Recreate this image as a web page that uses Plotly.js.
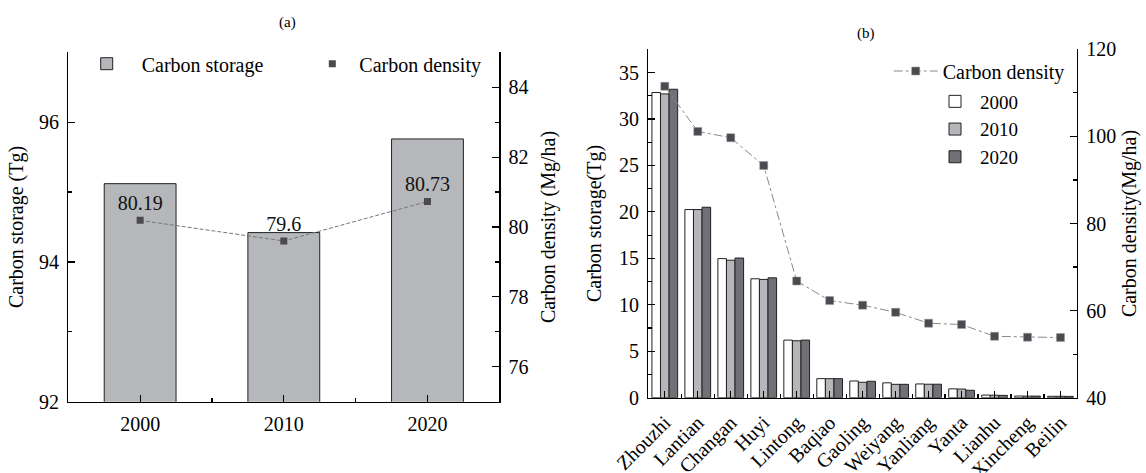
<!DOCTYPE html>
<html><head><meta charset="utf-8">
<script src="https://cdn.plot.ly/plotly-3.0.1.min.js"></script>
<style>html,body{margin:0;padding:0;background:#fff}#chart{width:1146px;height:473px}</style>
</head><body><div id="chart"></div>
<script>
// ---- Panel (a) data ----
const yearsA = ['2000', '2010', '2020'];
const storageA = [95.12, 94.42, 95.76];      // Tg
const densityA = [80.19, 79.6, 80.73];       // Mg/ha

// ---- Panel (b) data ----
const districts = ['Zhouzhi', 'Lantian', 'Changan', 'Huyi', 'Lintong', 'Baqiao', 'Gaoling',
  'Weiyang', 'Yanliang', 'Yanta', 'Lianhu', 'Xincheng', 'Beilin'];
const storage2000 = [32.85, 20.25, 14.97, 12.8, 6.2, 2.05, 1.8, 1.6, 1.48, 0.95, 0.28, 0.18, 0.15];
const storage2010 = [32.7, 20.25, 14.8, 12.73, 6.13, 2.05, 1.66, 1.44, 1.45, 0.93, 0.27, 0.17, 0.15];
const storage2020 = [33.2, 20.5, 15.03, 12.9, 6.2, 2.05, 1.77, 1.44, 1.45, 0.8, 0.25, 0.17, 0.14];
const densityB = [111.5, 101.15, 99.7, 93.3, 66.8, 62.3, 61.25, 59.6, 57.1, 56.8, 54.1, 53.9, 53.8];

const W = 1146, H = 473;
const fx = p => p / W;
const fy = p => 1 - p / H;
const FONT = '"Liberation Serif", "Times New Roman", Times, serif';
const tickFont = {family: FONT, size: 20, color: '#000'};
const titleFont = {family: FONT, size: 20, color: '#000'};

const idxA = yearsA.map((_, i) => i);
const idxB = districts.map((_, i) => i);
const midsA = yearsA.slice(1).map((_, i) => i + 0.5);
const midsB = districts.slice(1).map((_, i) => i + 0.5);

const barLine = {color: '#222', width: 1};
const traces = [
  {type: 'bar', x: idxA, y: storageA, xaxis: 'x', yaxis: 'y', width: 0.5,
   marker: {color: '#b5b7ba', line: barLine}, name: 'Carbon storage', legend: 'legend'},
  {type: 'scatter', mode: 'lines', x: idxA, y: densityA, xaxis: 'x', yaxis: 'y2',
   line: {color: '#777', width: 1, dash: '4px,2px'}, showlegend: false, hoverinfo: 'skip'},
  {type: 'scatter', mode: 'markers+text', x: idxA, y: densityA, xaxis: 'x', yaxis: 'y2',
   text: densityA.map(String), textposition: 'top center',
   textfont: {family: FONT, size: 20, color: '#111'},
   marker: {symbol: 'square', size: 7, color: '#4a4a50'}, name: 'Carbon density', legend: 'legend2'},

  {type: 'bar', x: idxB, y: storage2000, xaxis: 'x2', yaxis: 'y3', name: '2000',
   marker: {color: '#ffffff', line: barLine}, legend: 'legend4'},
  {type: 'bar', x: idxB, y: storage2010, xaxis: 'x2', yaxis: 'y3', name: '2010',
   marker: {color: '#b4b6b9', line: barLine}, legend: 'legend4'},
  {type: 'bar', x: idxB, y: storage2020, xaxis: 'x2', yaxis: 'y3', name: '2020',
   marker: {color: '#707176', line: barLine}, legend: 'legend4'},
  {type: 'scatter', mode: 'lines+markers', x: idxB, y: densityB, xaxis: 'x2', yaxis: 'y4',
   line: {color: '#8a8a8a', width: 1, dash: 'dashdot'},
   marker: {symbol: 'square', size: 8, color: '#4a4a50', line: {color: '#999', width: 0.5}},
   name: 'Carbon density', legend: 'legend3'}
];

const axCommon = {showline: true, linecolor: '#000', linewidth: 1.3, ticks: 'inside', ticklen: 7,
  tickcolor: '#000', tickwidth: 1.2, showgrid: false, zeroline: false, automargin: false,
  tickfont: tickFont, ticklabelstandoff: 4, fixedrange: true};

const legCommon = {font: {family: FONT, size: 20, color: '#000'}, bgcolor: 'rgba(0,0,0,0)',
  borderwidth: 0, xanchor: 'left', yanchor: 'middle'};

const layout = {
  width: W, height: H, margin: {l: 0, r: 0, t: 0, b: 0},
  paper_bgcolor: '#fff', plot_bgcolor: '#fff',
  barmode: 'group', bargap: 0.22, bargroupgap: 0,
  font: {family: FONT, color: '#000'},
  xaxis: Object.assign({}, axCommon, {domain: [fx(68.3), fx(499.3)], anchor: 'y', range: [-0.5, 2.5],
    tickmode: 'array', tickvals: idxA, ticktext: yearsA,
    minor: {tickmode: 'array', tickvals: midsA, ticks: 'inside', ticklen: 4, tickcolor: '#000'}}),
  yaxis: Object.assign({}, axCommon, {domain: [fy(401.7), fy(52.3)], anchor: 'x', range: [92, 97],
    tick0: 92, dtick: 2, minor: {dtick: 1, ticks: 'inside', ticklen: 4, tickcolor: '#000'},
    title: {text: 'Carbon storage (Tg)', font: titleFont, standoff: 10}}),
  yaxis2: Object.assign({}, axCommon, {overlaying: 'y', side: 'right', anchor: 'x', range: [75, 85],
    tick0: 76, dtick: 2, minor: {dtick: 1, ticks: 'inside', ticklen: 4, tickcolor: '#000'},
    title: {text: 'Carbon density (Mg/ha)', font: titleFont, standoff: 13}}),

  xaxis2: Object.assign({}, axCommon, {domain: [fx(648.3), fx(1077)], anchor: 'y3', range: [-0.5, 12.5],
    tickmode: 'array', tickvals: idxB, ticktext: districts, tickangle: -45,
    minor: {tickmode: 'array', tickvals: midsB, ticks: 'inside', ticklen: 4, tickcolor: '#000'}}),
  yaxis3: Object.assign({}, axCommon, {domain: [fy(397.7), fy(49.3)], anchor: 'x2', range: [0, 37.5],
    tick0: 0, dtick: 5, minor: {dtick: 2.5, ticks: 'inside', ticklen: 4, tickcolor: '#000'},
    title: {text: 'Carbon storage(Tg)', font: titleFont, standoff: 12}}),
  yaxis4: Object.assign({}, axCommon, {overlaying: 'y3', side: 'right', anchor: 'x2', range: [40, 120],
    tick0: 40, dtick: 20, minor: {dtick: 10, ticks: 'inside', ticklen: 4, tickcolor: '#000'},
    title: {text: 'Carbon density(Mg/ha)', font: titleFont, standoff: 6}}),

  legend: Object.assign({}, legCommon, {x: fx(141.7 - 70), y: fy(63.7), itemwidth: 60}),
  legend2: Object.assign({}, legCommon, {x: fx(359.3 - 54), y: fy(63.7), itemwidth: 44}),
  legend3: Object.assign({}, legCommon, {x: fx(942.7 - 54), y: fy(71), itemwidth: 44}),
  legend4: Object.assign({}, legCommon, {x: fx(980 - 50), y: fy(129.5), itemwidth: 40,
    font: {family: FONT, size: 19, color: '#000'}}),

  annotations: [
    {text: '(a)', xref: 'paper', yref: 'paper', x: fx(287), y: fy(23), showarrow: false,
     xanchor: 'center', yanchor: 'middle', font: {family: FONT, size: 15, color: '#000'}},
    {text: '(b)', xref: 'paper', yref: 'paper', x: fx(866), y: fy(33), showarrow: false,
     xanchor: 'center', yanchor: 'middle', font: {family: FONT, size: 15, color: '#000'}}
  ]
};

Plotly.newPlot('chart', traces, layout, {displayModeBar: false, staticPlot: true});
</script></body></html>
